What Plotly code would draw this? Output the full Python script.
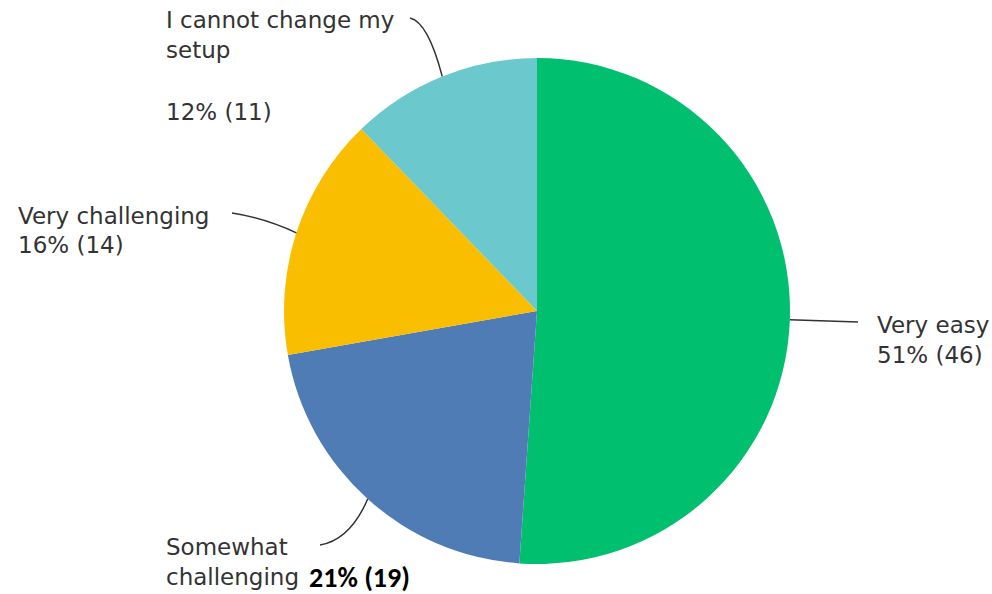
import math
import plotly.graph_objects as go

# ---- data ----
categories = ["Very easy", "Somewhat challenging", "Very challenging", "I cannot change my setup"]
counts = [46, 19, 14, 11]
percents = [51, 21, 16, 12]
colors = ["#00BF6F", "#507CB6", "#F9BE00", "#6BC8CD"]

W, H = 992, 594
CX, CY, R = 537, 311, 253   # pie centre / radius in px (layout)

fig = go.Figure(go.Pie(
    labels=categories, values=counts, sort=False, direction="clockwise", rotation=0,
    marker=dict(colors=colors, line=dict(width=0)), textinfo="none", hoverinfo="label+value+percent",
    domain=dict(x=[(CX - R) / W, (CX + R) / W], y=[1 - (CY + R) / H, 1 - (CY - R) / H]),
    showlegend=False,
))

def px(x, y):
    return x / W, 1 - y / H

# mid-angle of each slice (clockwise from 12 o'clock), computed from data
total = sum(counts)
mids = []
acc = 0
for c in counts:
    mids.append((acc + c / 2) / total * 360)
    acc += c

def edge(i):
    a = math.radians(mids[i])
    return CX + R * math.sin(a), CY - R * math.cos(a)

TXT = "#333333"
FONT = "DejaVu Sans"
FS = 23

# leader-line endpoints / control points & label layout (style, px)
leader = {
    0: dict(ctrl=None, end=(858, 322)),
    1: dict(ctrl=(350, 540), end=(320, 545)),
    2: dict(ctrl=(265, 218), end=(232, 213)),
    3: dict(ctrl=(428, 22), end=(410, 18)),
}
text_layout = {
    0: (875, [325, 355]),
    1: (164, [547, 577]),
    2: (16, [216, 245]),
    3: (164, [20, 50, 112]),
}
label_lines = {
    0: [categories[0], f"{percents[0]}% ({counts[0]})"],
    1: ["Somewhat", "challenging"],
    2: [categories[2], f"{percents[2]}% ({counts[2]})"],
    3: ["I cannot change my", "setup", f"{percents[3]}% ({counts[3]})"],
}

shapes = []
for i in range(4):
    x0, y0 = edge(i)
    ex, ey = leader[i]["end"]
    ctrl = leader[i]["ctrl"]
    X0, Y0 = px(x0, y0)
    X1, Y1 = px(ex, ey)
    if ctrl is None:
        path = f"M {X0},{Y0} L {X1},{Y1}"
    else:
        CXp, CYp = px(*ctrl)
        path = f"M {X0},{Y0} Q {CXp},{CYp} {X1},{Y1}"
    shapes.append(dict(type="path", xref="paper", yref="paper", path=path,
                       line=dict(color="#333333", width=1.5)))

annotations = []
for i in range(4):
    tx, ys = text_layout[i]
    for line, y in zip(label_lines[i], ys):
        X, Y = px(tx, y)
        annotations.append(dict(x=X, y=Y, xref="paper", yref="paper", text=line,
                                showarrow=False, xanchor="left", yanchor="middle",
                                font=dict(family=FONT, size=FS, color=TXT)))
# bold Calibri-style percentage for "Somewhat challenging"
X, Y = px(307, 577)
annotations.append(dict(x=X, y=Y, xref="paper", yref="paper",
                        text=f"<b>{percents[1]}% ({counts[1]})</b>",
                        showarrow=False, xanchor="left", yanchor="middle",
                        font=dict(family="Carlito, Liberation Sans, sans-serif", size=28, color="#000000")))

fig.update_layout(
    width=W, height=H, margin=dict(l=0, r=0, t=0, b=0),
    paper_bgcolor="white", plot_bgcolor="white",
    shapes=shapes, annotations=annotations,
)
fig.write_html("out.html", config={"displayModeBar": False},
               post_script="document.body.style.margin='0';")
